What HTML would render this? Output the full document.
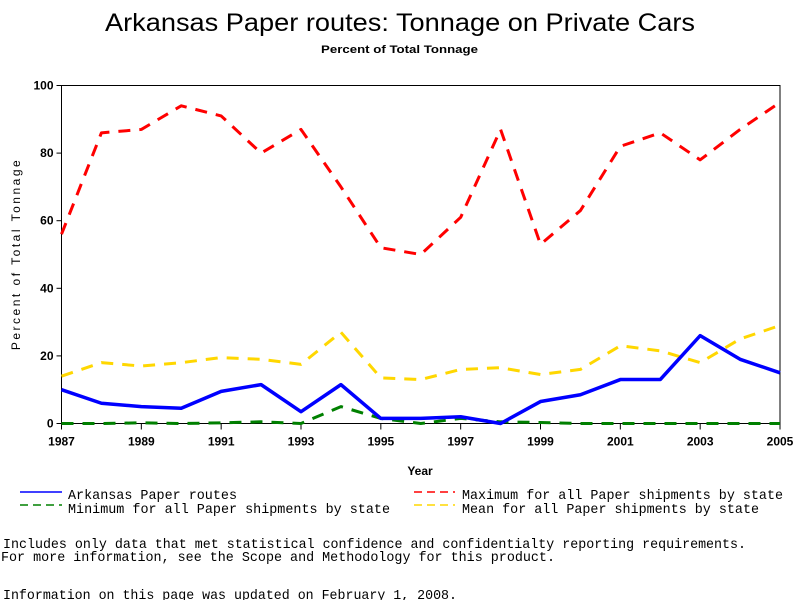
<!DOCTYPE html>
<html><head><meta charset="utf-8"><style>body{margin:0;background:#fff}svg{display:block}</style></head>
<body>
<svg id="c" width="800" height="600" xmlns="http://www.w3.org/2000/svg" font-family="Liberation Sans, sans-serif">
<text x="105" y="31" font-size="25" textLength="590" lengthAdjust="spacingAndGlyphs">Arkansas Paper routes: Tonnage on Private Cars</text>
<text x="321" y="53" font-size="11" font-weight="bold" textLength="157" lengthAdjust="spacingAndGlyphs">Percent of Total Tonnage</text>
<g id="plot"></g>
<text x="20" y="254" font-size="12" text-anchor="middle" transform="rotate(-90 20 254)" letter-spacing="2.5">Percent of Total Tonnage</text>
<text x="420" y="475" font-size="12" font-weight="bold" text-anchor="middle">Year</text>
<g font-family="Liberation Mono, monospace" font-size="14">
<g><line x1="20" y1="492" x2="62" y2="492" stroke="#0000ff" stroke-width="1.5"/><text x="68" y="499" textLength="169" lengthAdjust="spacingAndGlyphs">Arkansas Paper routes</text></g>
<g><line x1="20" y1="505" x2="62" y2="505" stroke="#008000" stroke-width="1.5" stroke-dasharray="8,5"/><text x="68" y="513" textLength="322" lengthAdjust="spacingAndGlyphs">Minimum for all Paper shipments by state</text></g>
<g><line x1="414" y1="492" x2="455" y2="492" stroke="#ff0000" stroke-width="1.5" stroke-dasharray="8,5"/><text x="462" y="499" textLength="321" lengthAdjust="spacingAndGlyphs">Maximum for all Paper shipments by state</text></g>
<g><line x1="414" y1="505" x2="455" y2="505" stroke="#ffd700" stroke-width="1.5" stroke-dasharray="8,5"/><text x="462" y="513" textLength="297" lengthAdjust="spacingAndGlyphs">Mean for all Paper shipments by state</text></g>
</g>
<g font-family="Liberation Mono, monospace" font-size="14">
<text x="3" y="548" textLength="743" lengthAdjust="spacingAndGlyphs">Includes only data that met statistical confidence and confidentialty reporting requirements.</text>
<text x="1" y="561" textLength="554" lengthAdjust="spacingAndGlyphs">For more information, see the Scope and Methodology for this product.</text>
<text x="3" y="599" textLength="454" lengthAdjust="spacingAndGlyphs">Information on this page was updated on February 1, 2008.</text>
</g>
</svg>
<script>
const years=[1987,1988,1989,1990,1991,1992,1993,1994,1995,1996,1997,1998,1999,2000,2001,2002,2003,2004,2005];
const arkansas=[10,6,5,4.5,9.5,11.5,3.5,11.5,1.5,1.5,2,0,6.5,8.5,13,13,26,19,15];
const maximum=[56,86,87,94,91,80,87,70,52,50,61,87,53,63,82,86,78,87,95];
const minimum=[0,0,0.2,0,0.2,0.5,0,5,1.5,0,1.5,0.5,0.3,0,0,0,0,0,0];
const mean=[14,18,17,18,19.5,19,17.5,27,13.5,13,16,16.5,14.5,16,23,21.5,18,25,29];
const yTicks=[0,20,40,60,80,100];
const xTicks=[1987,1989,1991,1993,1995,1997,1999,2001,2003,2005];
const L=61.5,R=780,T=85.5,B=423.5;
const xs=v=>L+(v-1987)/(2005-1987)*(R-L);
const ys=v=>B-v/100*(B-T);
const NS='http://www.w3.org/2000/svg';
const g=document.getElementById('plot');
function mk(t,a){const e=document.createElementNS(NS,t);for(const k in a)e.setAttribute(k,a[k]);g.appendChild(e);return e;}
const frame=mk('rect',{x:L,y:T,width:R-L,height:B-T,fill:'none',stroke:'#000','stroke-width':1});


yTicks.forEach(v=>{
 const tk=mk('line',{x1:L-5,x2:L,y1:ys(v),y2:ys(v),stroke:'#000'});
 
 
 const t=mk('text',{x:L-8,y:ys(v)+4,'font-size':12,'font-weight':'bold','text-anchor':'end'});
 t.textContent=v;
 
 
});
xTicks.forEach(v=>{
 const tk=mk('line',{x1:xs(v),x2:xs(v),y1:B,y2:B+6,stroke:'#000'});
 
 
 const t=mk('text',{x:xs(v),y:B+22,'font-size':12,'font-weight':'bold','text-anchor':'middle'});
 t.textContent=v;
 
 
});
function series(vals,color,w,dash,name){
 const p=mk('polyline',{points:vals.map((v,i)=>xs(years[i])+','+ys(v)).join(' '),fill:'none',stroke:color,'stroke-width':w,'stroke-dasharray':dash,'stroke-linejoin':'round'});
 
 
}
series(minimum,'#008000',3,'12,9','line-minimum');
series(mean,'#ffd700',3,'12,9','line-mean');
series(maximum,'#ff0000',3,'12,9','line-maximum');
series(arkansas,'#0000ff',3.5,'none','line-arkansas');
</script>
</body></html>
